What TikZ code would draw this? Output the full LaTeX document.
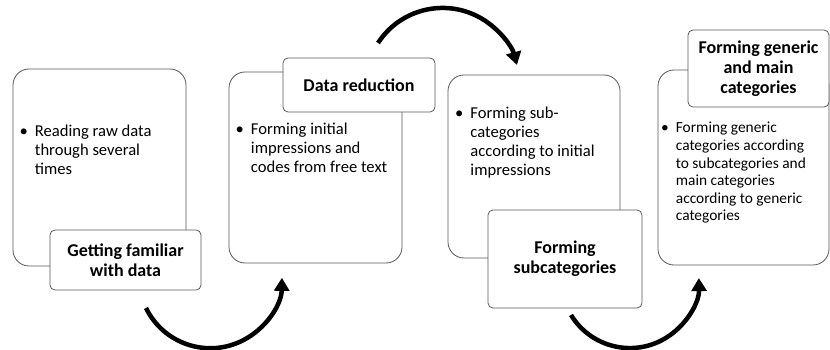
\documentclass[tikz,border=0pt]{standalone}
\usepackage{fontspec}
\setmainfont{Carlito}
\usepackage{tikz}
\usetikzlibrary{arrows.meta}

\begin{document}
\begin{tikzpicture}[x=1pt,y=-1pt]
        \tikzstyle{stage} = [draw=black!65,line width=0.8pt,rounded corners=16pt,fill=white,inner sep=0pt]
        \tikzstyle{caption} = [draw=black!65,line width=0.8pt,rounded corners=5pt,fill=white,inner sep=0pt,align=center,font=\fontsize{18}{20}\selectfont\bfseries]
        \tikzstyle{points} = [anchor=base west,inner sep=0pt,font=\fontsize{16.6}{18.8}\selectfont]
        \tikzstyle{turn} = [line width=4.5pt,-{Triangle[width=15pt,length=13pt]}]
        %
        \useasboundingbox (0,0) rectangle (830,350);
        % First stage.
        \node[stage,minimum width=173pt,minimum height=197pt] (box1) at (99.5,167.5) {};
        \node[points] (txt1) at (19.5,137) {\textbullet\hspace{7pt}\begin{tabular}[t]{@{}l@{}}Reading raw data\\through several\\times\end{tabular}};
        \node[caption,minimum width=151pt,minimum height=60pt] (lab1) at (125.5,260) {Getting familiar\\with data};
        % Second stage.
        \node[stage,minimum width=173pt,minimum height=191pt] (box2) at (315.5,167.5) {};
        \node[points] (txt2) at (235.5,135) {\textbullet\hspace{7pt}\begin{tabular}[t]{@{}l@{}}Forming initial\\impressions and\\codes from free text\end{tabular}};
        \node[caption,minimum width=152pt,minimum height=54pt] (lab2) at (359,85) {Data reduction};
        % Third stage.
        \node[stage,minimum width=172pt,minimum height=183pt] (box3) at (534,166.5) {};
        \node[points] (txt3) at (455,119) {\textbullet\hspace{7pt}\begin{tabular}[t]{@{}l@{}}Forming sub-\\categories\\according to initial\\impressions\end{tabular}};
        \node[caption,minimum width=154pt,minimum height=98pt] (lab3) at (565,259) {Forming\\subcategories};
        % Fourth stage.
        \node[stage,minimum width=171pt,minimum height=195pt] (box4) at (743.5,167.5) {};
        \node[points,font=\fontsize{15.4}{17.6}\selectfont] (txt4) at (661,133) {\textbullet\hspace{7pt}\begin{tabular}[t]{@{}l@{}}Forming generic\\categories according\\to subcategories and\\main categories\\according to generic\\categories\end{tabular}};
        \node[caption,minimum width=141pt,minimum height=77pt] (lab4) at (758.5,68.5) {Forming generic\\and main\\categories};
        % Draw turns.
        \coordinate (turn1) at (146,308);
        \coordinate (turn2) at (378,43);
        \coordinate (turn3) at (571,315);
        \draw[turn] (turn1) arc[start angle=154,end angle=1,radius=71.6];
        \draw[turn] (turn2) arc[start angle=213,end angle=345,radius=77];
        \draw[turn] (turn3) arc[start angle=148.6,end angle=-0.8,radius=69];
        %
\end{tikzpicture}
\end{document}
